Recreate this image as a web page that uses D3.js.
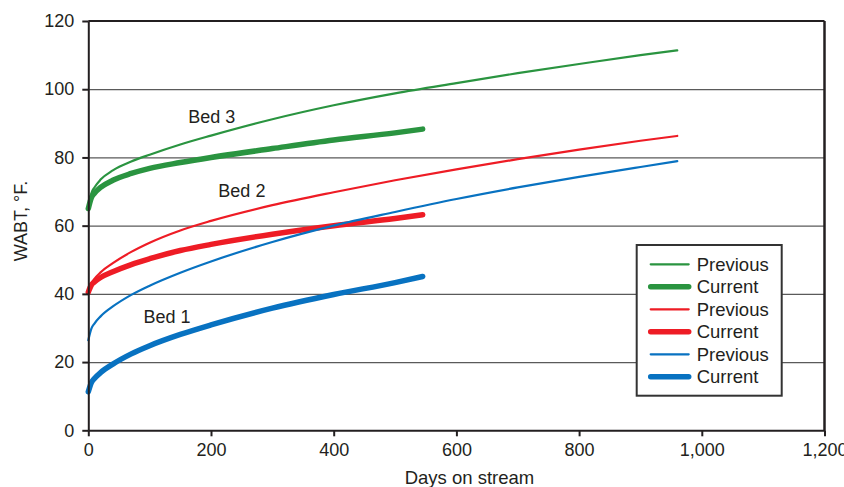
<!DOCTYPE html>
<html>
<head>
<meta charset="utf-8">
<script src="https://cdn.jsdelivr.net/npm/d3@7"></script>
<style>
  body { margin: 0; background: #fff; }
  svg { display: block; font-family: "Liberation Sans", Arial, sans-serif; }
  .axis text { font-size: 18px; fill: #231f20; }
  .axis path, .axis line { stroke: #231f20; stroke-width: 2; }
  .grid line { stroke: #5a5a5a; stroke-width: 1.2; }
  .grid path { display: none; }
</style>
</head>
<body>
<svg width="844" height="487"></svg>
<script>
'use strict';

// days on stream for sampled points
var previousDays = [0, 5, 10, 20, 40, 70, 100, 150, 200, 300, 400, 500, 600, 700, 800, 900, 960];
var currentDays = [0, 5, 10, 20, 40, 70, 100, 150, 200, 300, 400, 500, 545];

// WABT, F
var bed3Previous = [65, 69.5, 71.2, 73.5, 76.2, 78.8, 80.8, 83.8, 86.4, 91.2, 95.3, 98.8, 101.8, 104.7, 107.4, 110, 111.4];
var bed3Current = [65, 68.2, 69.5, 71.2, 73.3, 75.3, 76.8, 78.5, 80, 82.6, 85.1, 87.2, 88.3];
var bed2Previous = [40.5, 43, 44.4, 46.3, 49, 52.3, 55, 58.6, 61.4, 66, 69.8, 73.3, 76.5, 79.5, 82.3, 84.9, 86.3];
var bed2Current = [40.5, 42.6, 43.5, 44.8, 46.5, 48.6, 50.3, 52.7, 54.5, 57.5, 60, 62.1, 63.2];
var bed1Previous = [26.4, 29.8, 31.3, 33.4, 36.3, 39.7, 42.4, 46.2, 49.5, 55.2, 60, 64, 67.8, 71.2, 74.3, 77.2, 78.9];
var bed1Current = [11.3, 14, 15.2, 16.9, 19.4, 22.4, 24.8, 28.1, 30.9, 35.8, 39.8, 43.3, 45.1];

var xTicks = [0, 200, 400, 600, 800, 1000, 1200];
var yTicks = [0, 20, 40, 60, 80, 100, 120];

var bedLabels = [
    { text: 'Bed 3', day: 163, value: 90.2 },
    { text: 'Bed 2', day: 212, value: 68.3 },
    { text: 'Bed 1', day: 90, value: 31.6 }
];

var GREEN = '#2a9440';
var RED = '#ee1c25';
var BLUE = '#0872c1';
var THIN = 2.2;
var THICK = 5.5;

var series = [
    { name: 'Previous', days: previousDays, values: bed3Previous, color: GREEN, width: THIN },
    { name: 'Current', days: currentDays, values: bed3Current, color: GREEN, width: THICK },
    { name: 'Previous', days: previousDays, values: bed2Previous, color: RED, width: THIN },
    { name: 'Current', days: currentDays, values: bed2Current, color: RED, width: THICK },
    { name: 'Previous', days: previousDays, values: bed1Previous, color: BLUE, width: THIN },
    { name: 'Current', days: currentDays, values: bed1Current, color: BLUE, width: THICK }
];

var margin = { top: 21, right: 19.5, bottom: 56.7, left: 88.3 };
var svg = d3.select('svg');
var width = 844 - margin.left - margin.right;
var height = 487 - margin.top - margin.bottom;

var x = d3.scaleLinear().domain([0, 1200]).range([0, width]);
var y = d3.scaleLinear().domain([0, 120]).range([height, 0]);

var chart = svg.append('g')
    .attr('transform', 'translate(' + margin.left + ',' + margin.top + ')');

// horizontal grid
chart.append('g')
    .attr('class', 'grid')
    .call(d3.axisLeft(y).tickValues(yTicks.slice(1, -1)).tickSize(-width).tickFormat(''));

// top and right frame
chart.append('line')
    .attr('x1', 0).attr('x2', width)
    .attr('y1', y(120)).attr('y2', y(120))
    .attr('stroke', '#231f20').attr('stroke-width', 2);
chart.append('line')
    .attr('x1', width).attr('x2', width)
    .attr('y1', y(120)).attr('y2', y(0))
    .attr('stroke', '#231f20').attr('stroke-width', 2.5);

var line = d3.line()
    .x(function(d) { return x(d[0]); })
    .y(function(d) { return y(d[1]); })
    .curve(d3.curveMonotoneX);

chart.selectAll('path.series')
    .data(series)
    .enter()
    .append('path')
    .attr('class', 'series')
    .attr('fill', 'none')
    .attr('stroke', function(d) { return d.color; })
    .attr('stroke-width', function(d) { return d.width; })
    .attr('stroke-linecap', 'round')
    .attr('d', function(d) { return line(d3.zip(d.days, d.values)); });

// axes
chart.append('g')
    .attr('class', 'axis')
    .call(d3.axisLeft(y).tickValues(yTicks).tickSize(6).tickPadding(8).tickSizeOuter(0));

chart.append('g')
    .attr('class', 'axis')
    .attr('transform', 'translate(0,' + height + ')')
    .call(d3.axisBottom(x).tickValues(xTicks).tickSize(6).tickPadding(7).tickSizeOuter(0)
        .tickFormat(d3.format(',')));

// bed labels
chart.selectAll('text.bed')
    .data(bedLabels)
    .enter()
    .append('text')
    .attr('class', 'bed')
    .attr('x', function(d) { return x(d.day); })
    .attr('y', function(d) { return y(d.value); })
    .attr('font-size', 18)
    .attr('fill', '#231f20')
    .text(function(d) { return d.text; });

// axis titles
svg.append('text')
    .attr('x', 469.5)
    .attr('y', 484)
    .attr('text-anchor', 'middle')
    .attr('font-size', 18.5)
    .attr('fill', '#231f20')
    .text('Days on stream');

svg.append('text')
    .attr('transform', 'translate(27,221) rotate(-90)')
    .attr('text-anchor', 'middle')
    .attr('font-size', 18)
    .attr('fill', '#231f20')
    .text('WABT, °F.');

// legend
var legend = svg.append('g').attr('transform', 'translate(636.7,245)');
legend.append('rect')
    .attr('width', 145)
    .attr('height', 150.7)
    .attr('fill', '#fff')
    .attr('stroke', '#333')
    .attr('stroke-width', 2);

var rows = legend.selectAll('g.row')
    .data(series)
    .enter()
    .append('g')
    .attr('class', 'row')
    .attr('transform', function(d, i) { return 'translate(0,' + (19.3 + i * 22.5) + ')'; });

rows.append('line')
    .attr('x1', 14).attr('x2', 52)
    .attr('stroke', function(d) { return d.color; })
    .attr('stroke-width', function(d) { return d.width; })
    .attr('stroke-linecap', 'round');

rows.append('text')
    .attr('x', 60)
    .attr('y', 6.5)
    .attr('font-size', 18.5)
    .attr('fill', '#231f20')
    .text(function(d) { return d.name; });
</script>
</body>
</html>
